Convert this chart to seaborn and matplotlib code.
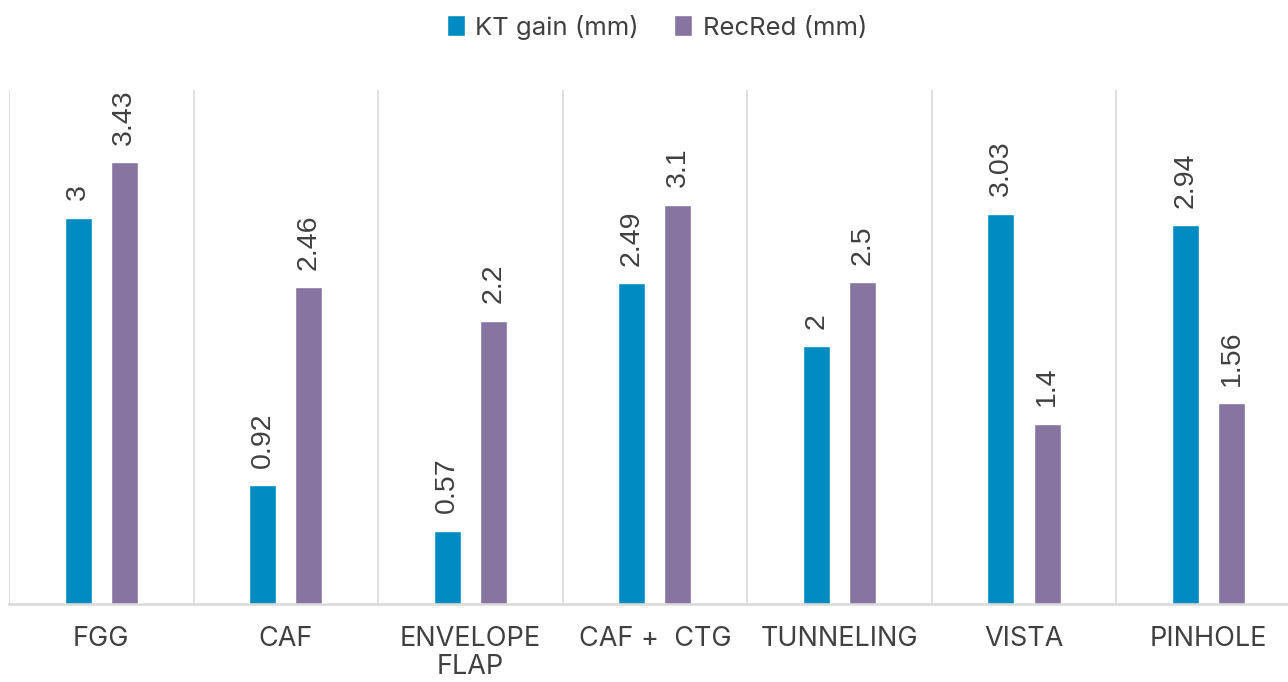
import matplotlib
matplotlib.use("Agg")
import matplotlib.pyplot as plt
import seaborn as sns
import pandas as pd

categories = ["FGG", "CAF", "ENVELOPE\nFLAP", "CAF +  CTG", "TUNNELING", "VISTA", "PINHOLE"]
kt_gain = [3, 0.92, 0.57, 2.49, 2, 3.03, 2.94]
rec_red = [3.43, 2.46, 2.2, 3.1, 2.5, 1.4, 1.56]
series = ["KT gain (mm)", "RecRed (mm)"]
colors = ["#008CC3", "#8575A0"]

df = pd.DataFrame({
    "category": categories * 2,
    "value": kt_gain + rec_red,
    "series": [series[0]] * len(categories) + [series[1]] * len(categories),
})

sns.set_theme(style="white")
plt.rcParams["font.family"] = ["Inter", "DejaVu Sans"]

fig = plt.figure(figsize=(12.88, 6.82), dpi=100)
left = 9 / 1288
right = 1300.8 / 1288
bottom = 1 - 604 / 682
top = 1 - 90 / 682
ax = fig.add_axes([left, bottom, right - left, top - bottom])

sns.barplot(data=df, x="category", y="value", hue="series", palette=colors,
            width=0.5, gap=0.416, ax=ax, legend=False, saturation=1, errorbar=None)

ax.set_xlim(-0.5, len(categories) - 0.5)
ax.set_ylim(0, 3.99)
ax.set_xlabel("")
ax.set_ylabel("")
ax.set_yticks([])

for c in ax.containers:
    labels = [f"{v:g}" for v in c.datavalues]
    ax.bar_label(c, labels=labels, rotation=90, padding=12.5, fontsize=20.5,
                 color="#404040", family=["Liberation Sans", "DejaVu Sans"])

ax.set_xticks(range(len(categories)))
ax.set_xticklabels(categories, fontsize=19.5, color="#404040", linespacing=1.1)
ax.tick_params(axis="x", length=0, pad=16)

ax.set_xticks([i - 0.5 for i in range(len(categories) + 1)], minor=True)
ax.tick_params(axis="x", which="minor", length=0)
ax.grid(True, axis="x", which="minor", color="#D9D9D9", linewidth=1.2)
ax.grid(False, axis="x", which="major")
ax.grid(False, axis="y")
ax.set_axisbelow(True)

for s in ["top", "right", "left"]:
    ax.spines[s].set_visible(False)
ax.spines["bottom"].set_color("#D9D9D9")
ax.spines["bottom"].set_linewidth(1.8)

from matplotlib.patches import Patch
handles = [Patch(facecolor=colors[0]), Patch(facecolor=colors[1])]
fig.legend(handles, series, loc="center", bbox_to_anchor=(0.51, 1 - 27 / 682),
           ncol=2, frameon=False, fontsize=18.5, handlelength=0.7, handleheight=0.85,
           handletextpad=0.4, columnspacing=1.4, labelcolor="#404040")

fig.savefig("out.png", dpi=100)
